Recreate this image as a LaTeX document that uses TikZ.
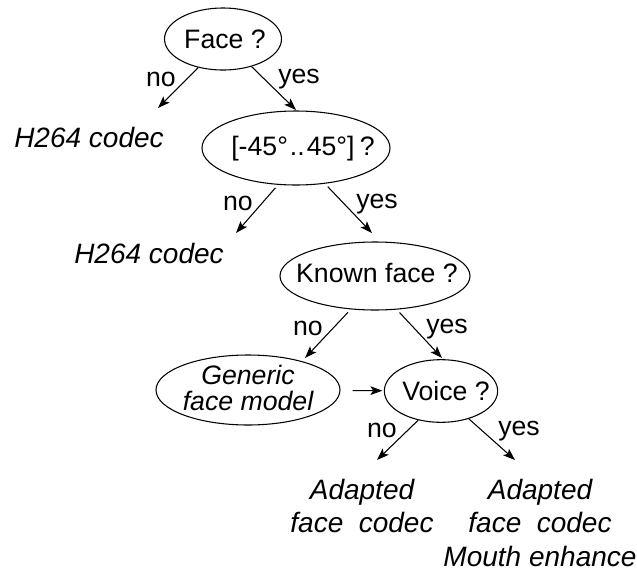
\documentclass[tikz,border=0pt]{standalone}
\usepackage{fontspec}
\setmainfont{Liberation Sans}
\usetikzlibrary{shapes.geometric,arrows.meta}
\begin{document}
\begin{tikzpicture}[x=0.75pt,y=-0.75pt,
  txt/.style={font=\fontsize{20}{25.5}\selectfont, inner sep=0pt},
  dec/.style={draw, ellipse, inner sep=0pt, line width=0.8pt},
  leaf/.style={font=\fontsize{21}{25}\selectfont\itshape, align=center, inner sep=0pt},
  lbl/.style={txt, anchor=base},
  arr/.style={-{Stealth[length=9pt,width=6.5pt,inset=2pt]}, line width=0.8pt}]
\useasboundingbox (0,0) rectangle (637,572);

% decision ellipses
\node[dec, minimum width=87.75pt, minimum height=46.5pt] (face) at (223,39) {};
\node[txt] (face-t) at (225,39) {Face ?};
\node[dec, minimum width=141pt, minimum height=55.5pt] (ang) at (296,148) {};
\node[txt] (ang-t) at (303,149) {[-45°\hspace{1.5pt}..\hspace{1.5pt}45°]\hspace{4pt}?};
\node[dec, minimum width=142.5pt, minimum height=51pt] (known) at (375,276) {};
\node[txt] (known-t) at (377,273) {Known face ?};
\node[dec, minimum width=138pt, minimum height=52.5pt] (generic) at (248,390) {};
\node[txt, font=\fontsize{20}{19}\selectfont\itshape, align=center] (generic-t) at (248,388) {Generic\\face model};
\node[dec, minimum width=85pt, minimum height=47pt] (voice) at (441,391) {};
\node[txt] (voice-t) at (446,391) {Voice ?};

% leaves
\node[leaf, anchor=base] (h1) at (89,147) {H264 codec};
\node[leaf, anchor=base] (h2) at (149,263) {H264 codec};
\node[leaf, anchor=north] (af) at (362,479) {Adapted\\face\ \ codec};
\node[leaf, anchor=north] (afm) at (540,479) {Adapted\\face\ \ codec\\Mouth enhance};

% arrow end points
\coordinate (e1) at (158,108);
\coordinate (e2) at (296,110);
\coordinate (e3) at (236,233);
\coordinate (e4) at (372,233);
\coordinate (e5) at (305,358);
\coordinate (e6) at (442,358);
\coordinate (e7) at (377,460);
\coordinate (e8) at (515,460);

% connectors
\draw[arr] (face.229) -- (e1);
\draw[arr] (face.316) -- (e2);
\draw[arr, shorten <=3pt] (ang.244) -- (e3);
\draw[arr, shorten <=3pt] (ang.309) -- (e4);
\draw[arr, shorten <=3pt] (known.234) -- (e5);
\draw[arr, shorten <=3pt] (known.303) -- (e6);
\draw[arr] (voice.232) -- (e7);
\draw[arr] (voice.315) -- (e8);
\draw[arr, shorten <=9pt, shorten >=1pt] (generic) -- (voice);

% labels
\node[lbl] (l1) at (161,86) {no};
\node[lbl] (l2) at (299,83) {yes};
\node[lbl] (l3) at (238,210) {no};
\node[lbl] (l4) at (377,208) {yes};
\node[lbl] (l5) at (308,335) {no};
\node[lbl] (l6) at (447,333) {yes};
\node[lbl] (l7) at (382,437) {no};
\node[lbl] (l8) at (519,435) {yes};
\end{tikzpicture}
\end{document}
